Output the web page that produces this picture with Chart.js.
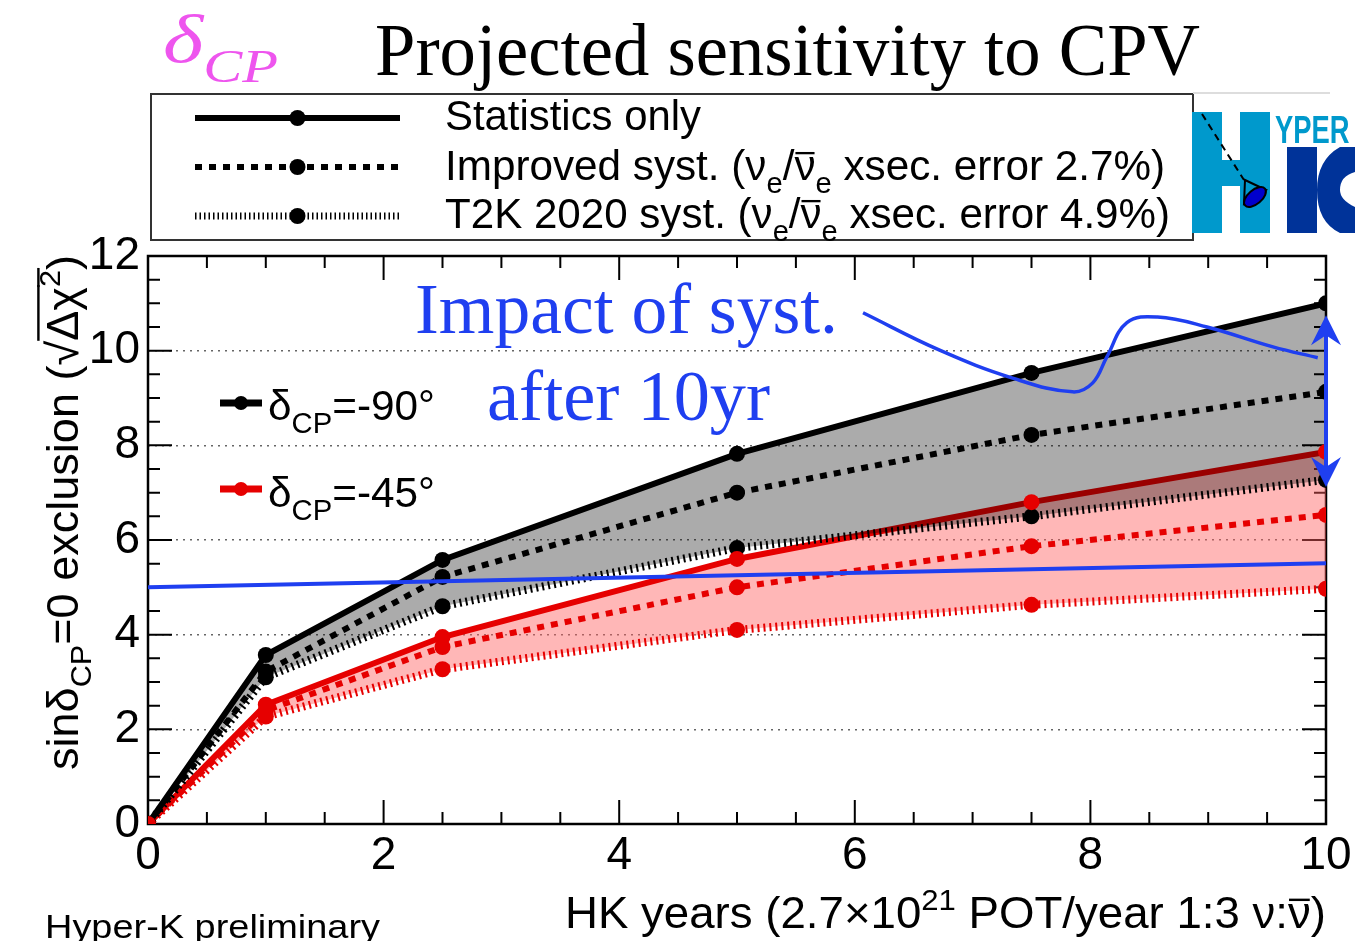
<!DOCTYPE html>
<html>
<head>
<meta charset="utf-8">
<script src="https://cdn.jsdelivr.net/npm/chart.js@4.4.0/dist/chart.umd.min.js"></script>
<style>
  html, body { margin: 0; padding: 0; background: #fff; }
  canvas { display: block; }
</style>
</head>
<body>
<canvas id="cpv" width="1355" height="941"></canvas>
<script>
// HK years and sqrt(delta chi2)
const years = [0, 1, 2.5, 5, 7.5, 10];
const stat90 = [0, 3.57, 5.58, 7.82, 9.53, 11.0];
const imp90 = [0, 3.22, 5.22, 7.0, 8.22, 9.13];
const t2k90 = [0, 3.1, 4.6, 5.83, 6.5, 7.27];
const stat45 = [0, 2.52, 3.95, 5.6, 6.8, 7.86];
const imp45 = [0, 2.4, 3.74, 5.0, 5.87, 6.53];
const t2k45 = [0, 2.27, 3.27, 4.1, 4.63, 4.97];

// blue reference line
const limitYears = [0, 10];
const limitVals = [5.0, 5.51];

// blue annotation curve (data coords)
const curveX = [6.07, 6.72, 7.34, 7.85, 8.02, 8.14, 8.31, 8.57, 8.99, 9.55, 9.93];
const curveY = [10.8, 10.01, 9.42, 9.13, 9.32, 9.87, 10.59, 10.71, 10.5, 10.08, 9.85];

// double arrow at 10 yr
const arrowYear = 10;
const arrowTop = 10.75;
const arrowBottom = 7.12;

const xTicks = [0, 2, 4, 6, 8, 10];
const yTicks = [0, 2, 4, 6, 8, 10, 12];

const BLACK = '#000000';
const RED = '#e60000';
const BLUE = '#1f3ff0';
const SANS = '"Liberation Sans", Arial, sans-serif';
const SERIF = '"Liberation Serif", "Times New Roman", serif';

const pts = (xs, ys) => xs.map((x, i) => ({ x: x, y: ys[i] }));

// draws text pieces with sub/sup/bar/overline; optional width squeezes it to fit
function rich(ctx, parts, x, y, size, family, color, opts) {
  opts = opts || {};
  const style = opts.style ? opts.style + ' ' : '';
  const fontFor = m => style + Math.round(/sub|sup/.test(m) ? size * 0.68 : size) + 'px ' + family;
  ctx.save();
  let w = 0;
  parts.forEach(([t, m]) => { ctx.font = fontFor(m || ''); w += ctx.measureText(t).width; });
  const sx = opts.width ? opts.width / w : 1;
  let sx0 = x;
  if (opts.align === 'right') sx0 = x - w * sx;
  if (opts.align === 'center') sx0 = x - w * sx / 2;
  ctx.translate(sx0, y);
  ctx.scale(sx, 1);
  ctx.fillStyle = color;
  ctx.strokeStyle = color;
  ctx.textBaseline = 'alphabetic';
  ctx.textAlign = 'left';
  let cx = 0;
  parts.forEach(([t, m]) => {
    m = m || '';
    ctx.font = fontFor(m);
    const dy = m.includes('sub') ? size * 0.3 : m.includes('sup') ? -size * 0.42 : 0;
    ctx.fillText(t, cx, dy);
    const tw = ctx.measureText(t).width;
    ctx.lineWidth = size * 0.055;
    if (m.includes('bar')) {
      ctx.beginPath(); ctx.moveTo(cx + 1, -size * 0.64); ctx.lineTo(cx + tw - 1, -size * 0.64); ctx.stroke();
    }
    if (m.includes('over')) {
      ctx.beginPath(); ctx.moveTo(cx, -size * 0.9); ctx.lineTo(cx + tw + 2, -size * 0.9); ctx.stroke();
    }
    cx += tw;
  });
  ctx.restore();
}

function sampleLine(ctx, x1, x2, y, color, width, dash, dotR) {
  ctx.save();
  ctx.strokeStyle = color;
  ctx.fillStyle = color;
  ctx.lineWidth = width;
  ctx.setLineDash(dash);
  ctx.beginPath(); ctx.moveTo(x1, y); ctx.lineTo(x2, y); ctx.stroke();
  ctx.setLineDash([]);
  ctx.beginPath(); ctx.arc((x1 + x2) / 2, y, dotR, 0, Math.PI * 2); ctx.fill();
  ctx.restore();
}

function drawLogo(ctx) {
  ctx.save();
  const lb = '#0099cc', db = '#003399';
  ctx.fillStyle = lb;
  // H
  ctx.fillRect(1192, 112, 30, 121);
  ctx.fillRect(1240, 112, 30, 121);
  ctx.fillRect(1220, 160, 22, 26);
  ctx.font = 'bold 38px ' + SANS;
  ctx.save();
  ctx.translate(1275, 143);
  ctx.scale(0.72, 1);
  ctx.fillText('YPER', 0, 0);
  ctx.restore();
  // K
  ctx.fillStyle = db;
  ctx.fillRect(1287, 147, 30, 86);
  ctx.beginPath();
  ctx.moveTo(1355, 147);
  ctx.lineTo(1340, 147);
  ctx.quadraticCurveTo(1317, 160, 1317, 190);
  ctx.quadraticCurveTo(1317, 222, 1340, 233);
  ctx.lineTo(1355, 233);
  ctx.lineTo(1355, 207);
  ctx.quadraticCurveTo(1340, 200, 1340, 190);
  ctx.quadraticCurveTo(1340, 176, 1355, 172);
  ctx.closePath();
  ctx.fill();
  // track and cone
  ctx.strokeStyle = '#000';
  ctx.lineWidth = 2;
  ctx.setLineDash([7, 5]);
  ctx.beginPath(); ctx.moveTo(1202, 114); ctx.lineTo(1244, 180); ctx.stroke();
  ctx.setLineDash([]);
  ctx.beginPath();
  ctx.moveTo(1245, 180); ctx.lineTo(1266, 190); ctx.lineTo(1244, 204); ctx.closePath();
  ctx.stroke();
  ctx.fillStyle = '#0000cc';
  ctx.beginPath();
  ctx.ellipse(1255, 197, 13, 7, -0.7, 0, Math.PI * 2);
  ctx.fill(); ctx.stroke();
  ctx.restore();
}

const rootStyle = {
  id: 'rootStyle',
  beforeDatasetsDraw(chart) {
    const { ctx, chartArea: a, scales: { x, y } } = chart;
    ctx.save();
    ctx.strokeStyle = '#000';
    ctx.lineWidth = 2;
    ctx.beginPath();
    for (let v = 0; v <= 10.001; v += 0.5) {
      const px = x.getPixelForValue(v);
      const len = Math.abs(v % 2) < 1e-6 ? 24 : 12;
      ctx.moveTo(px, a.bottom); ctx.lineTo(px, a.bottom - len);
      ctx.moveTo(px, a.top); ctx.lineTo(px, a.top + len);
    }
    for (let v = 0; v <= 12.001; v += 0.5) {
      const py = y.getPixelForValue(v);
      const len = Math.abs(v % 2) < 1e-6 ? 24 : 12;
      ctx.moveTo(a.left, py); ctx.lineTo(a.left + len, py);
      ctx.moveTo(a.right, py); ctx.lineTo(a.right - len, py);
    }
    ctx.stroke();
    ctx.lineWidth = 2.5;
    ctx.strokeRect(a.left, a.top, a.right - a.left, a.bottom - a.top);
    ctx.restore();
  },
  afterDatasetsDraw(chart) {
    const { ctx, scales: { x, y } } = chart;
    const ax = x.getPixelForValue(arrowYear);
    const top = y.getPixelForValue(arrowTop);
    const bot = y.getPixelForValue(arrowBottom);
    ctx.save();
    ctx.strokeStyle = BLUE;
    ctx.fillStyle = BLUE;
    ctx.lineWidth = 4;
    ctx.beginPath(); ctx.moveTo(ax, top + 10); ctx.lineTo(ax, bot - 10); ctx.stroke();
    const head = (tipY, dir) => {
      ctx.beginPath();
      ctx.moveTo(ax, tipY);
      ctx.lineTo(ax + 15, tipY + dir * 30);
      ctx.lineTo(ax, tipY + dir * 20);
      ctx.lineTo(ax - 15, tipY + dir * 30);
      ctx.closePath();
      ctx.fill();
    };
    head(top, 1);
    head(bot, -1);
    ctx.restore();
  },
  afterDraw(chart) {
    const ctx = chart.ctx;
    // title
    rich(ctx, [['δ'], ['CP', 'sub']], 163, 62, 68, SERIF, '#ee55ee', { style: 'italic', width: 115 });
    rich(ctx, [['Projected sensitivity to CPV']], 375, 75, 74, SERIF, '#000', { width: 825 });

    // top legend box
    ctx.save();
    ctx.strokeStyle = '#333';
    ctx.lineWidth = 2;
    ctx.strokeRect(151, 94, 1042, 146);
    ctx.strokeStyle = '#ddd';
    ctx.beginPath(); ctx.moveTo(1193, 93); ctx.lineTo(1330, 93); ctx.stroke();
    ctx.restore();
    sampleLine(ctx, 195, 400, 118, BLACK, 6, [], 8);
    sampleLine(ctx, 195, 400, 167, BLACK, 6, [7, 7], 8);
    sampleLine(ctx, 195, 400, 216, BLACK, 7, [1.5, 3], 8);
    rich(ctx, [['Statistics only']], 445, 130, 42, SANS, '#000', { width: 256 });
    rich(ctx, [['Improved syst. (ν'], ['e', 'sub'], ['/'], ['ν', 'bar'], ['e', 'sub'], [' xsec. error 2.7%)']],
      445, 180, 42, SANS, '#000', { width: 720 });
    rich(ctx, [['T2K 2020 syst. (ν'], ['e', 'sub'], ['/'], ['ν', 'bar'], ['e', 'sub'], [' xsec. error 4.9%)']],
      445, 228, 42, SANS, '#000', { width: 725 });
    drawLogo(ctx);

    // inner legend
    sampleLine(ctx, 220, 262, 403, BLACK, 7, [], 7);
    sampleLine(ctx, 220, 262, 489, RED, 7, [], 7);
    rich(ctx, [['δ'], ['CP', 'sub'], ['=-90°']], 268, 420, 42, SANS, '#000', { width: 167 });
    rich(ctx, [['δ'], ['CP', 'sub'], ['=-45°']], 268, 507, 42, SANS, '#000', { width: 167 });

    // annotation text
    rich(ctx, [['Impact of syst.']], 415, 333, 72, SERIF, BLUE, { width: 423 });
    rich(ctx, [['after 10yr']], 487, 420, 72, SERIF, BLUE, { width: 283 });

    // axis titles
    rich(ctx, [['HK years (2.7×10'], ['21', 'sup'], [' POT/year 1:3 ν:'], ['ν', 'bar'], [')']],
      1326, 928, 44, SANS, '#000', { align: 'right', width: 761 });
    ctx.save();
    ctx.translate(78, 770);
    ctx.rotate(-Math.PI / 2);
    rich(ctx, [['sinδ'], ['CP', 'sub'], ['=0 exclusion ('], ['√'], ['Δχ', 'over'], ['2', 'sup over'], [')']],
      0, 0, 44, SANS, '#000', { width: 515 });
    ctx.restore();

    rich(ctx, [['Hyper-K preliminary']], 45, 938, 34, SANS, '#000', { width: 335 });
  }
};

const tickFont = { family: SANS, size: 46 };
const dot = { pointRadius: 8, pointBorderWidth: 0, fill: false };

new Chart(document.getElementById('cpv').getContext('2d'), {
  type: 'line',
  data: {
    datasets: [
      {
        data: pts(limitYears, limitVals), order: 0,
        borderColor: BLUE, borderWidth: 4, pointRadius: 0, fill: false
      },
      {
        data: pts(curveX, curveY), order: 1,
        borderColor: BLUE, borderWidth: 3.5, pointRadius: 0, tension: 0.4, fill: false
      },
      {
        // red stats markers kept on top of the grey band
        data: pts(years, stat45), order: 2, showLine: false,
        ...dot, pointBackgroundColor: RED
      },
      {
        data: pts(years, stat90), order: 5,
        borderColor: BLACK, borderWidth: 6, ...dot, pointBackgroundColor: BLACK
      },
      {
        data: pts(years, imp90), order: 6,
        borderColor: BLACK, borderWidth: 6, borderDash: [7, 7], ...dot, pointBackgroundColor: BLACK
      },
      {
        data: pts(years, t2k90), order: 7,
        borderColor: BLACK, borderWidth: 8, borderDash: [2, 4], ...dot, pointBackgroundColor: BLACK,
        backgroundColor: 'rgba(0, 0, 0, 0.33)', fill: 3
      },
      {
        data: pts(years, stat45), order: 8,
        borderColor: RED, borderWidth: 6, pointRadius: 0, fill: false
      },
      {
        data: pts(years, imp45), order: 9,
        borderColor: RED, borderWidth: 6, borderDash: [7, 7], ...dot, pointBackgroundColor: RED
      },
      {
        data: pts(years, t2k45), order: 10,
        borderColor: RED, borderWidth: 8, borderDash: [2, 4], ...dot, pointBackgroundColor: RED,
        backgroundColor: 'rgba(255, 95, 95, 0.45)', fill: 6
      }
    ]
  },
  options: {
    responsive: false,
    animation: false,
    layout: { padding: { top: 256, right: 29, left: 0, bottom: 0 } },
    plugins: {
      legend: { display: false },
      tooltip: { enabled: false },
      filler: { drawTime: 'beforeDatasetDraw' }
    },
    scales: {
      x: {
        type: 'linear', min: 0, max: 10,
        grid: { display: false },
        border: { display: false },
        ticks: { font: tickFont, color: '#000', padding: -3, maxRotation: 0 },
        afterBuildTicks: s => { s.ticks = xTicks.map(v => ({ value: v })); },
        afterFit: s => { s.height = 117; }
      },
      y: {
        type: 'linear', min: 0, max: 12,
        grid: {
          drawTicks: false,
          lineWidth: 1.5,
          color: c => (c.tick && c.tick.value > 0 && c.tick.value < 12) ? '#666' : 'rgba(0,0,0,0)'
        },
        border: { display: false, dash: [2, 5] },
        ticks: { font: tickFont, color: '#000', padding: 8 },
        afterBuildTicks: s => { s.ticks = yTicks.map(v => ({ value: v })); },
        afterFit: s => { s.width = 148; }
      }
    }
  },
  plugins: [rootStyle]
});
</script>
</body>
</html>
